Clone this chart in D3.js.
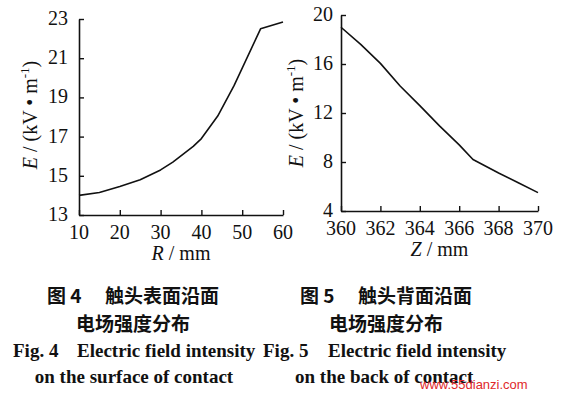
<!DOCTYPE html>
<html>
<head>
<meta charset="utf-8">
<script src="https://cdn.jsdelivr.net/npm/d3@7"></script>
<style>
  body { margin: 0; background: #fff; }
  svg { display: block; }
  .tick-label { font-family: "Liberation Serif", "Times New Roman", serif; font-size: 20px; fill: #111; }
  .axis-title { font-family: "Liberation Serif", "Times New Roman", serif; font-size: 20px; fill: #111; }
  .cap-cn { font-family: "Noto Sans CJK SC", sans-serif; font-weight: 700; font-size: 19px; fill: #111; }
  .cap-en { font-family: "Liberation Serif", "Times New Roman", serif; font-weight: 700; font-size: 19px; fill: #111; }
</style>
</head>
<body>
<div id="chart"></div>
<script>
// Fig. 4 : E along the contact surface
const surfR = [10, 15, 20, 25, 30, 33, 38, 40, 44, 48, 54.5, 60];
const surfE = [14.0, 14.15, 14.45, 14.8, 15.3, 15.7, 16.5, 16.9, 18.05, 19.6, 22.5, 22.85];
const surfXTicks = [10, 20, 30, 40, 50, 60];
const surfYTicks = [13, 15, 17, 19, 21, 23];

// Fig. 5 : E along the back of the contact
const backZ = [360, 361, 362, 363, 364, 365, 366, 366.7, 368, 369, 370];
const backE = [19.0, 17.6, 16.05, 14.2, 12.6, 10.95, 9.4, 8.2, 7.1, 6.3, 5.5];
const backXTicks = [360, 362, 364, 366, 368, 370];
const backYTicks = [4, 8, 12, 16, 20];

const width = 581, height = 394;

const svg = d3.select('#chart')
  .append('svg')
  .attr('width', width)
  .attr('height', height);

function drawPanel(opts) {
  const x = d3.scaleLinear().domain(opts.xDomain).range([opts.left, opts.right]);
  const y = d3.scaleLinear().domain(opts.yDomain).range([opts.bottom, opts.top]);
  const g = svg.append('g');

  // axes with inward ticks
  const xAxis = d3.axisBottom(x).tickValues(opts.xTicks).tickSizeInner(-5).tickSizeOuter(0).tickFormat('');
  const yAxis = d3.axisLeft(y).tickValues(opts.yTicks).tickSizeInner(-5).tickSizeOuter(0).tickFormat('');

  const gx = g.append('g').attr('transform', `translate(0,${opts.bottom})`).call(xAxis);
  const gy = g.append('g').attr('transform', `translate(${opts.left},0)`).call(yAxis);
  [gx, gy].forEach(a => {
    a.select('.domain').attr('stroke', '#111').attr('stroke-width', 1.6);
    a.selectAll('.tick line').attr('stroke', '#111').attr('stroke-width', 1.4);
  });

  g.selectAll('.xl')
    .data(opts.xTicks)
    .enter()
    .append('text')
    .attr('class', 'tick-label')
    .attr('x', d => x(d))
    .attr('y', opts.bottom + 24)
    .attr('text-anchor', 'middle')
    .text(d => d);

  g.selectAll('.yl')
    .data(opts.yTicks)
    .enter()
    .append('text')
    .attr('class', 'tick-label')
    .attr('x', opts.left - opts.yLabelGap)
    .attr('y', d => y(d) + 6)
    .attr('text-anchor', 'end')
    .text(d => d);

  // x title
  const xt = g.append('text')
    .attr('class', 'axis-title')
    .attr('x', (opts.left + opts.right) / 2)
    .attr('y', opts.bottom + 45)
    .attr('text-anchor', 'middle');
  xt.append('tspan').style('font-style', 'italic').text(opts.xVar);
  xt.append('tspan').text(' / mm');

  // y title
  const yt = g.append('text')
    .attr('class', 'axis-title')
    .attr('transform', `translate(${opts.yTitleX},${opts.yTitleY}) rotate(-90)`)
    .attr('text-anchor', 'middle');
  yt.append('tspan').style('font-style', 'italic').text('E');
  yt.append('tspan').text(' / (kV • m');
  yt.append('tspan').attr('dy', -8).style('font-size', '13px').text('-1');
  yt.append('tspan').attr('dy', 8).text(')');

  const line = d3.line()
    .x(d => x(d[0]))
    .y(d => y(d[1]));

  g.append('path')
    .datum(d3.zip(opts.xs, opts.ys))
    .attr('d', line)
    .attr('fill', 'none')
    .attr('stroke', '#111')
    .attr('stroke-width', 1.6)
    .attr('stroke-linejoin', 'round');
}

drawPanel({
  xDomain: [10, 60], yDomain: [13, 23],
  left: 79, right: 283, top: 19, bottom: 215,
  xTicks: surfXTicks, yTicks: surfYTicks,
  xs: surfR, ys: surfE, xVar: 'R',
  yLabelGap: 11, yTitleX: 37, yTitleY: 115
});

drawPanel({
  xDomain: [360, 370], yDomain: [4, 20],
  left: 341, right: 538, top: 15, bottom: 211,
  xTicks: backXTicks, yTicks: backYTicks,
  xs: backZ, ys: backE, xVar: 'Z',
  yLabelGap: 8, yTitleX: 303, yTitleY: 113
});

// captions
function caption(cx, num, cn1) {
  svg.append('text').attr('class', 'cap-cn').attr('x', cx - 86).attr('y', 303).text('图 ' + num);
  svg.append('text').attr('class', 'cap-cn').attr('x', cx + 86).attr('y', 303)
    .attr('text-anchor', 'end').text(cn1);
  svg.append('text').attr('class', 'cap-cn').attr('x', cx).attr('y', 331)
    .attr('text-anchor', 'middle').text('电场强度分布');
}
caption(133, '4', '触头表面沿面');
caption(386, '5', '触头背面沿面');

svg.append('text').attr('class', 'cap-en').attr('x', 13).attr('y', 357).text('Fig. 4');
svg.append('text').attr('class', 'cap-en').attr('x', 77).attr('y', 357).text('Electric field intensity');
svg.append('text').attr('class', 'cap-en').attr('x', 263).attr('y', 357).text('Fig. 5');
svg.append('text').attr('class', 'cap-en').attr('x', 328).attr('y', 357).text('Electric field intensity');
svg.append('text').attr('class', 'cap-en').attr('x', 134).attr('y', 383)
  .attr('text-anchor', 'middle').text('on the surface of contact');
svg.append('text').attr('class', 'cap-en').attr('x', 295).attr('y', 383).text('on the back of contact');

svg.append('text')
  .attr('x', 420).attr('y', 389)
  .style('font-family', 'Liberation Sans, sans-serif')
  .style('font-size', '13px')
  .style('fill', '#e0282a')
  .text('www.55dianzi.com');
</script>
</body>
</html>
